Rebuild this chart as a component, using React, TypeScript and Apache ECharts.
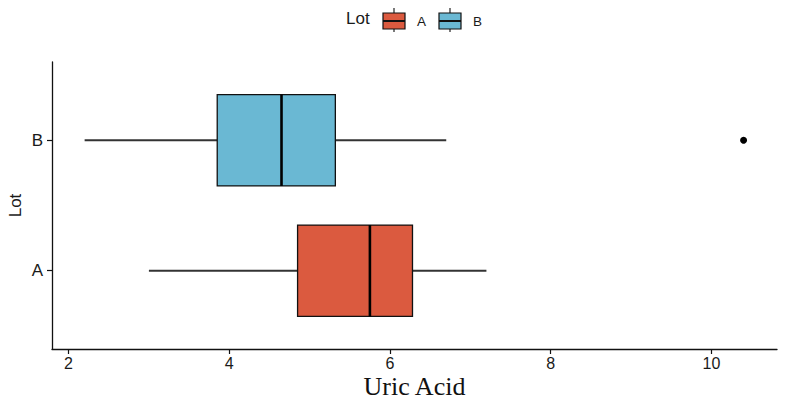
import React, { useRef, useEffect } from 'react'
import * as echarts from 'echarts'

// lots and five-number summaries
const lots = ['A', 'B']
const lotColors = ['#DB5A3F', '#6AB8D3']
const lowWhisker = [3.0, 2.2]
const q1 = [4.85, 3.85]
const median = [5.75, 4.65]
const q3 = [6.28, 5.32]
const highWhisker = [7.2, 6.7]
const outliers = [[10.4, 'B']]
const xTicks = [2, 4, 6, 8, 10]

const sans = '"Liberation Sans", Arial, sans-serif'

const App: React.FC = () => {
  const chartRef = useRef<HTMLDivElement>(null)

  useEffect(() => {
    if (!chartRef.current) return
    const chart = echarts.init(chartRef.current, null, { renderer: 'svg' })

    const boxData = lots.map((_, i) => [i + 1, lowWhisker[i], q1[i], median[i], q3[i], highWhisker[i]])
    const outlierData = outliers.map(([v, lot]) => [v, lots.indexOf(lot as string) + 1])

    // legend glyphs, ggplot style
    const legendGraphic: any[] = [
      {
        type: 'text',
        left: 346,
        top: 10,
        style: { text: 'Lot', font: `17px ${sans}`, fill: '#1a1a1a' },
      },
    ]
    lots.forEach((name, i) => {
      const x0 = 383 + i * 56
      legendGraphic.push(
        { type: 'line', shape: { x1: x0 + 11, y1: 8, x2: x0 + 11, y2: 32 }, style: { stroke: '#222', lineWidth: 1.2 } },
        { type: 'rect', shape: { x: x0, y: 13, width: 22, height: 16 }, style: { fill: lotColors[i], stroke: '#111', lineWidth: 1.2 } },
        { type: 'line', shape: { x1: x0, y1: 21, x2: x0 + 22, y2: 21 }, style: { stroke: '#111', lineWidth: 2 } },
        {
          type: 'text',
          left: x0 + 34,
          top: 14,
          style: { text: name, font: `13.5px ${sans}`, fill: '#1a1a1a' },
        }
      )
    })

    const option = {
      animation: false,
      grid: { left: 52, right: 10, top: 62, bottom: 57, containLabel: false, outerBoundsMode: 'none' },
      xAxis: {
        type: 'value',
        min: 1.794,
        max: 10.816,
        name: 'Uric Acid',
        nameLocation: 'middle',
        nameGap: 24,
        nameMoveOverlap: false,
        nameTextStyle: { fontFamily: '"Liberation Serif", "DejaVu Serif", serif', fontSize: 26, color: '#111' },
        axisLine: { lineStyle: { color: '#111', width: 1.3 } },
        axisTick: { show: true, customValues: xTicks, length: 5, lineStyle: { color: '#111', width: 1.2 } },
        axisLabel: { customValues: xTicks, margin: 6, fontFamily: sans, fontSize: 16, color: '#1a1a1a' },
        splitLine: { show: false },
      },
      yAxis: {
        type: 'value',
        min: 0.4,
        max: 2.6,
        name: 'Lot',
        nameLocation: 'middle',
        nameGap: 28,
        nameMoveOverlap: false,
        nameTextStyle: { fontFamily: sans, fontSize: 17, color: '#1a1a1a' },
        axisLine: { show: true, lineStyle: { color: '#111', width: 1.3 } },
        axisTick: { show: true, customValues: [1, 2], length: 5, lineStyle: { color: '#111', width: 1.2 } },
        axisLabel: {
          customValues: [1, 2],
          margin: 9,
          fontFamily: sans,
          fontSize: 17,
          color: '#1a1a1a',
          formatter: (v: number) => lots[Math.round(v) - 1] ?? '',
        },
        splitLine: { show: false },
      },
      graphic: legendGraphic,
      series: [
        {
          type: 'custom',
          data: boxData,
          encode: { x: [1, 2, 3, 4, 5], y: 0 },
          renderItem: (params: any, api: any) => {
            const y = api.value(0)
            const idx = params.dataIndex
            const [xl, yc] = api.coord([api.value(1), y])
            const [x1] = api.coord([api.value(2), y])
            const [xm] = api.coord([api.value(3), y])
            const [x3] = api.coord([api.value(4), y])
            const [xh] = api.coord([api.value(5), y])
            const half = api.size([0, 0.35])[1]
            return {
              type: 'group',
              children: [
                { type: 'line', shape: { x1: xl, y1: yc, x2: x1, y2: yc }, style: { stroke: '#333', lineWidth: 1.8 } },
                { type: 'line', shape: { x1: x3, y1: yc, x2: xh, y2: yc }, style: { stroke: '#333', lineWidth: 1.8 } },
                {
                  type: 'rect',
                  shape: { x: x1, y: yc - half, width: x3 - x1, height: half * 2 },
                  style: { fill: lotColors[idx], stroke: '#111', lineWidth: 1.3 },
                },
                { type: 'line', shape: { x1: xm, y1: yc - half, x2: xm, y2: yc + half }, style: { stroke: '#000', lineWidth: 2.6 } },
              ],
            }
          },
        },
        {
          type: 'scatter',
          data: outlierData,
          symbolSize: 7,
          itemStyle: { color: '#000', opacity: 1 },
        },
      ],
    }

    chart.setOption(option)
    return () => chart.dispose()
  }, [])

  return (
    <div
      ref={chartRef}
      style={{ position: 'absolute', left: 0, top: 0, width: '787px', height: '406px', background: '#fff' }}
    />
  )
}

export default App
